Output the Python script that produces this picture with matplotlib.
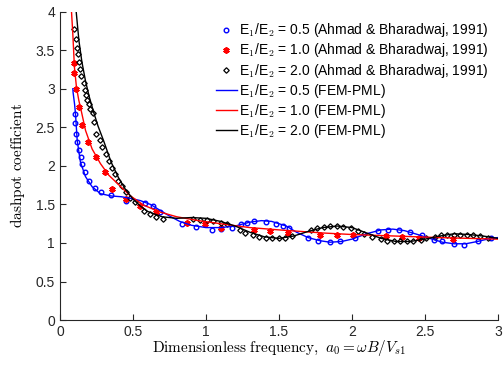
import numpy as np
import matplotlib
matplotlib.use("Agg")
import matplotlib.pyplot as plt

plt.rcParams['mathtext.fontset'] = 'cm'
plt.rcParams['font.family'] = ['Liberation Sans', 'DejaVu Sans']

# Ahmad & Bharadwaj (1991) points
a_blue = [0.101, 0.104, 0.108, 0.120, 0.129, 0.145, 0.152, 0.170, 0.200, 0.240, 0.280, 0.350,
          0.453, 0.585, 0.636, 0.684, 0.837, 0.935, 1.04, 1.10, 1.18, 1.24, 1.28, 1.33, 1.41,
          1.48, 1.53, 1.57, 1.70, 1.77, 1.85, 1.92, 2.02, 2.18, 2.25, 2.32, 2.40, 2.48, 2.56,
          2.62, 2.70, 2.77, 2.86, 2.95]
c_blue = [2.67, 2.56, 2.41, 2.31, 2.20, 2.11, 2.03, 1.92, 1.81, 1.71, 1.66, 1.62,
          1.55, 1.52, 1.48, 1.40, 1.25, 1.21, 1.17, 1.18, 1.20, 1.24, 1.26, 1.28, 1.27,
          1.25, 1.22, 1.19, 1.07, 1.02, 1.01, 1.02, 1.07, 1.16, 1.17, 1.17, 1.14, 1.11, 1.04,
          1.02, 0.99, 0.98, 1.02, 1.06]

a_red = [0.099, 0.099, 0.113, 0.129, 0.152, 0.19, 0.248, 0.31, 0.357, 0.449, 0.55, 0.66,
         0.87, 0.99, 1.10, 1.33, 1.44, 1.56, 1.78, 1.90, 2.01, 2.23, 2.34, 2.46, 2.69]
c_red = [3.33, 3.20, 3.00, 2.77, 2.53, 2.31, 2.11, 1.92, 1.70, 1.57, 1.48, 1.40,
         1.26, 1.25, 1.19, 1.17, 1.15, 1.13, 1.11, 1.11, 1.10, 1.09, 1.08, 1.07, 1.05]

a_black = [0.099, 0.111, 0.118, 0.122, 0.129, 0.14, 0.147, 0.163, 0.17, 0.179, 0.186, 0.197,
           0.209, 0.225, 0.232, 0.25, 0.273, 0.289, 0.312, 0.334, 0.357, 0.38, 0.40, 0.426,
           0.449, 0.483, 0.517, 0.574, 0.615, 0.66, 0.707, 0.91, 0.957, 1.01, 1.05, 1.10,
           1.145, 1.23, 1.27, 1.32, 1.36, 1.41, 1.45, 1.50, 1.54, 1.59, 1.72, 1.76, 1.81,
           1.85, 1.90, 1.94, 1.99, 2.04, 2.08, 2.14, 2.20, 2.24, 2.29, 2.33, 2.38, 2.42,
           2.47, 2.51, 2.57, 2.61, 2.65, 2.70, 2.74, 2.79, 2.83, 2.88, 2.93]
c_black = [3.77, 3.64, 3.53, 3.45, 3.35, 3.26, 3.17, 3.07, 2.99, 2.92, 2.86, 2.80,
           2.74, 2.68, 2.57, 2.42, 2.34, 2.25, 2.16, 2.06, 1.97, 1.89, 1.81, 1.74,
           1.66, 1.59, 1.53, 1.41, 1.37, 1.34, 1.31, 1.31, 1.30, 1.30, 1.28, 1.26,
           1.24, 1.17, 1.13, 1.10, 1.08, 1.06, 1.06, 1.06, 1.07, 1.09, 1.17, 1.20, 1.21,
           1.22, 1.22, 1.21, 1.19, 1.16, 1.12, 1.08, 1.05, 1.02, 1.02, 1.02, 1.02, 1.02,
           1.04, 1.06, 1.08, 1.10, 1.11, 1.11, 1.11, 1.11, 1.10, 1.09, 1.07]

# FEM-PML curves
f_blue = [0.088, 0.09, 0.10, 0.106, 0.118, 0.14, 0.175, 0.22, 0.277, 0.35, 0.42, 0.48, 0.55,
          0.62, 0.68, 0.75, 0.82, 0.90, 1.0, 1.1, 1.2, 1.3, 1.38, 1.45, 1.55, 1.62, 1.70,
          1.78, 1.85, 1.93, 2.0, 2.1, 2.2, 2.28, 2.36, 2.45, 2.55, 2.62, 2.70, 2.78, 2.86,
          2.95, 3.0]
d_blue = [3.0, 2.95, 2.80, 2.68, 2.33, 2.05, 1.86, 1.73, 1.64, 1.61, 1.60, 1.58, 1.55,
          1.50, 1.43, 1.35, 1.28, 1.23, 1.20, 1.20, 1.22, 1.27, 1.29, 1.28, 1.22, 1.14, 1.07,
          1.03, 1.01, 1.02, 1.05, 1.12, 1.17, 1.18, 1.16, 1.11, 1.05, 1.01, 0.99, 0.99, 1.02,
          1.06, 1.07]

f_red = [0.079, 0.088, 0.099, 0.113, 0.129, 0.145, 0.175, 0.22, 0.277, 0.334, 0.40, 0.483,
         0.574, 0.688, 0.80, 0.95, 1.1, 1.3, 1.5, 1.8, 2.0, 2.3, 2.6, 3.0]
d_red = [4.0, 3.71, 3.28, 3.02, 2.85, 2.72, 2.46, 2.22, 2.03, 1.88, 1.76, 1.61,
         1.49, 1.40, 1.34, 1.29, 1.25, 1.20, 1.17, 1.13, 1.11, 1.09, 1.07, 1.05]

f_black = [0.111, 0.13, 0.15, 0.175, 0.20, 0.23, 0.26, 0.30, 0.35, 0.40, 0.45, 0.50, 0.55,
           0.60, 0.70, 0.80, 0.90, 1.0, 1.1, 1.2, 1.3, 1.4, 1.5, 1.6, 1.7, 1.8, 1.9, 2.0,
           2.1, 2.2, 2.3, 2.4, 2.5, 2.6, 2.7, 2.8, 2.9, 3.0]
d_black = [4.0, 3.62, 3.35, 3.10, 2.90, 2.70, 2.52, 2.32, 2.05, 1.85, 1.69, 1.57, 1.48,
           1.41, 1.34, 1.32, 1.33, 1.32, 1.28, 1.22, 1.14, 1.08, 1.06, 1.09, 1.15, 1.20,
           1.22, 1.20, 1.13, 1.06, 1.02, 1.02, 1.05, 1.09, 1.12, 1.11, 1.09, 1.06]

fig = plt.figure(figsize=(5.04, 3.65), dpi=100)
ax = fig.add_axes([0.119, 0.123, 0.869, 0.845])

ax.plot(a_blue, c_blue, 'o', mfc='none', mec='#0000ff', ms=3.3, mew=1.0,
        label=r'E$_1$/E$_2$ = 0.5 (Ahmad & Bharadwaj, 1991)')
ax.plot(a_red, c_red, marker=(6, 2, 0), ls='none', color='#ff0000', ms=4.5, mew=1.4,
        label=r'E$_1$/E$_2$ = 1.0 (Ahmad & Bharadwaj, 1991)')
ax.plot(a_black, c_black, 'D', mfc='none', mec='black', ms=2.8, mew=0.9,
        label=r'E$_1$/E$_2$ = 2.0 (Ahmad & Bharadwaj, 1991)')
ax.plot(f_blue, d_blue, color='#0000ff', lw=1.0, label=r'E$_1$/E$_2$ = 0.5 (FEM-PML)')
ax.plot(f_red, d_red, color='#ff0000', lw=1.0, label=r'E$_1$/E$_2$ = 1.0 (FEM-PML)')
ax.plot(f_black, d_black, color='black', lw=1.0, label=r'E$_1$/E$_2$ = 2.0 (FEM-PML)')

ax.set_xlim(0, 3)
ax.set_ylim(0, 4)
ax.set_xticks(np.arange(0, 3.01, 0.5))
ax.set_xticklabels(['0', '0.5', '1', '1.5', '2', '2.5', '3'])
ax.set_yticks(np.arange(0, 4.01, 0.5))
ax.set_yticklabels(['0', '0.5', '1', '1.5', '2', '2.5', '3', '3.5', '4'])
ax.tick_params(direction='in', length=4, labelsize=10, colors='#262626')
for s in ['top', 'right']:
    ax.spines[s].set_visible(False)
for s in ['left', 'bottom']:
    ax.spines[s].set_color('#262626')
    ax.spines[s].set_linewidth(0.8)

ax.set_xlabel(r'$\mathrm{Dimensionless\ frequency,}\ a_0 = \omega B/V_{s1}$',
              fontsize=11, labelpad=-1)
ax.set_ylabel(r'$\mathrm{dashpot\ coefficient}$', fontsize=11, labelpad=6)

ax.legend(loc='upper right', bbox_to_anchor=(1.0, 1.0), frameon=False, fontsize=10,
          handlelength=1.5, handletextpad=0.15, labelspacing=0.15, borderaxespad=0.3)

fig.savefig('out.png', dpi=100)
